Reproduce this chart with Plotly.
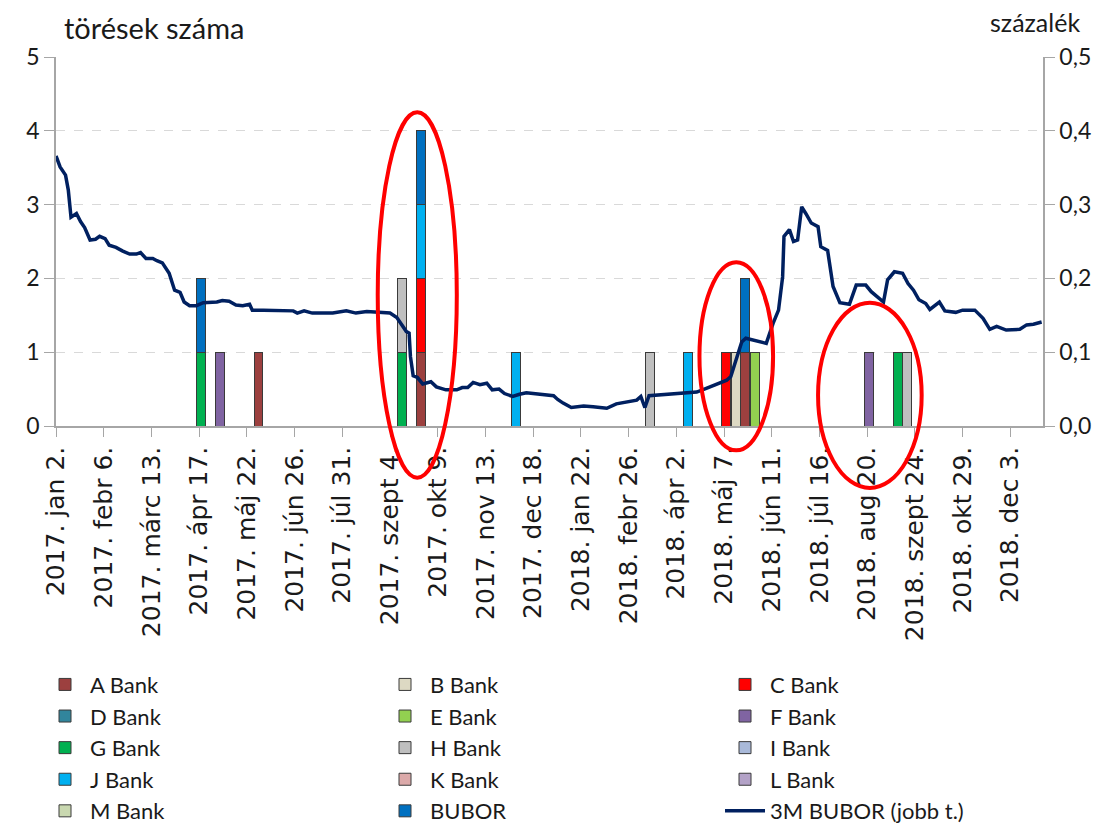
import pandas as pd
import plotly.graph_objects as go

# weeks (Monday) with at least one break, and count of breaks per bank in that week
bar_weeks = ["2017-04-17", "2017-05-01", "2017-05-29", "2017-09-11", "2017-09-25",
             "2017-12-04", "2018-03-12", "2018-04-09", "2018-05-07", "2018-05-14",
             "2018-05-21", "2018-05-28", "2018-08-20", "2018-09-10", "2018-09-17"]
a_bank = [0, 0, 1, 0, 1, 0, 0, 0, 0, 0, 1, 0, 0, 0, 0]
b_bank = [0, 0, 0, 0, 0, 0, 0, 0, 0, 1, 0, 0, 0, 0, 0]
c_bank = [0, 0, 0, 0, 1, 0, 0, 0, 1, 0, 0, 0, 0, 0, 0]
d_bank = [0, 0, 0, 0, 0, 0, 0, 0, 0, 0, 0, 0, 0, 0, 0]
e_bank = [0, 0, 0, 0, 0, 0, 0, 0, 0, 0, 0, 1, 0, 0, 0]
f_bank = [0, 1, 0, 0, 0, 0, 0, 0, 0, 0, 0, 0, 1, 0, 0]
g_bank = [1, 0, 0, 1, 0, 0, 0, 0, 0, 0, 0, 0, 0, 1, 0]
h_bank = [0, 0, 0, 1, 0, 0, 1, 0, 0, 0, 0, 0, 0, 0, 1]
i_bank = [0, 0, 0, 0, 0, 0, 0, 0, 0, 0, 0, 0, 0, 0, 0]
j_bank = [0, 0, 0, 0, 1, 1, 0, 1, 0, 0, 0, 0, 0, 0, 0]
k_bank = [0, 0, 0, 0, 0, 0, 0, 0, 0, 0, 0, 0, 0, 0, 0]
l_bank = [0, 0, 0, 0, 0, 0, 0, 0, 0, 0, 0, 0, 0, 0, 0]
m_bank = [0, 0, 0, 0, 0, 0, 0, 0, 0, 0, 0, 0, 0, 0, 0]
bubor = [1, 0, 0, 0, 1, 0, 0, 0, 0, 0, 1, 0, 0, 0, 0]

# 3M BUBOR (percent)
line_dates = [
    "2017-01-02", "2017-01-05", "2017-01-09", "2017-01-11", "2017-01-13", "2017-01-17",
    "2017-01-20", "2017-01-23", "2017-01-27", "2017-01-31", "2017-02-03", "2017-02-07",
    "2017-02-10", "2017-02-15", "2017-02-20", "2017-02-25", "2017-03-02", "2017-03-05",
    "2017-03-09", "2017-03-14", "2017-03-17", "2017-03-21", "2017-03-26", "2017-03-30",
    "2017-04-03", "2017-04-06", "2017-04-10", "2017-04-15", "2017-04-20", "2017-04-25",
    "2017-04-30", "2017-05-04", "2017-05-09", "2017-05-14", "2017-05-19", "2017-05-24",
    "2017-05-26", "2017-06-03", "2017-06-17", "2017-06-25", "2017-06-28", "2017-07-03",
    "2017-07-09", "2017-07-24", "2017-08-03", "2017-08-10", "2017-08-18", "2017-08-27",
    "2017-09-04", "2017-09-09", "2017-09-12", "2017-09-16", "2017-09-18", "2017-09-19",
    "2017-09-21", "2017-09-24", "2017-09-28", "2017-10-04", "2017-10-08", "2017-10-15",
    "2017-10-23", "2017-10-27", "2017-10-31", "2017-11-04", "2017-11-09", "2017-11-14",
    "2017-11-18", "2017-11-23", "2017-11-27", "2017-12-03", "2017-12-08", "2017-12-13",
    "2017-12-18", "2017-12-25", "2018-01-02", "2018-01-05", "2018-01-09", "2018-01-15",
    "2018-01-24", "2018-01-31", "2018-02-10", "2018-02-17", "2018-02-24", "2018-03-04",
    "2018-03-07", "2018-03-10", "2018-03-13", "2018-03-21", "2018-03-30", "2018-04-09",
    "2018-04-17", "2018-04-24", "2018-05-01", "2018-05-09", "2018-05-12", "2018-05-16",
    "2018-05-20", "2018-05-23", "2018-05-28", "2018-06-02", "2018-06-07", "2018-06-12",
    "2018-06-16", "2018-06-19", "2018-06-20", "2018-06-24", "2018-06-27", "2018-06-30",
    "2018-07-03", "2018-07-06", "2018-07-10", "2018-07-15", "2018-07-17", "2018-07-22",
    "2018-07-26", "2018-07-31", "2018-08-07", "2018-08-12", "2018-08-19", "2018-08-23",
    "2018-08-27", "2018-09-01", "2018-09-04", "2018-09-09", "2018-09-15", "2018-09-19",
    "2018-09-23", "2018-09-27", "2018-10-02", "2018-10-05", "2018-10-12", "2018-10-16",
    "2018-10-24", "2018-10-29", "2018-11-07", "2018-11-13", "2018-11-18", "2018-11-23",
    "2018-11-30", "2018-12-10", "2018-12-15", "2018-12-20", "2018-12-26"]
bubor_3m = [
    0.366, 0.351, 0.340, 0.320, 0.283, 0.288,
    0.277, 0.269, 0.252, 0.253, 0.257, 0.254,
    0.245, 0.242, 0.237, 0.233, 0.233, 0.235,
    0.227, 0.227, 0.224, 0.221, 0.207, 0.184,
    0.181, 0.168, 0.163, 0.163, 0.167, 0.167,
    0.168, 0.170, 0.169, 0.164, 0.163, 0.165,
    0.157, 0.157, 0.157, 0.156, 0.153, 0.156,
    0.153, 0.153, 0.156, 0.153, 0.155, 0.154,
    0.153, 0.147, 0.139, 0.128, 0.126, 0.094,
    0.068, 0.066, 0.057, 0.060, 0.053, 0.049,
    0.049, 0.052, 0.052, 0.059, 0.056, 0.058,
    0.049, 0.050, 0.044, 0.040, 0.043, 0.045,
    0.044, 0.043, 0.041, 0.036, 0.031, 0.025,
    0.027, 0.026, 0.024, 0.030, 0.032, 0.035,
    0.040, 0.025, 0.041, 0.042, 0.043, 0.044,
    0.046, 0.051, 0.056, 0.062, 0.067, 0.092,
    0.114, 0.119, 0.117, 0.115, 0.112, 0.139,
    0.157, 0.202, 0.257, 0.266, 0.250, 0.252,
    0.297, 0.288, 0.275, 0.270, 0.243, 0.238,
    0.189, 0.167, 0.165, 0.191, 0.191, 0.182,
    0.176, 0.168, 0.198, 0.209, 0.207, 0.193,
    0.184, 0.171, 0.166, 0.158, 0.168, 0.156,
    0.154, 0.157, 0.157, 0.146, 0.131, 0.135,
    0.130, 0.131, 0.137, 0.138, 0.141]

tick_text = ["2017. jan 2.", "2017. febr 6.", "2017. márc 13.", "2017. ápr 17.",
             "2017. máj 22.", "2017. jún 26.", "2017. júl 31.", "2017. szept 4.",
             "2017. okt 9.", "2017. nov 13.", "2017. dec 18.", "2018. jan 22.",
             "2018. febr 26.", "2018. ápr 2.", "2018. máj 7.", "2018. jún 11.",
             "2018. júl 16.", "2018. aug 20.", "2018. szept 24.", "2018. okt 29.",
             "2018. dec 3."]

banks = [("A Bank", a_bank, "#9C403F"), ("B Bank", b_bank, "#DDD9C3"),
         ("C Bank", c_bank, "#FF0000"), ("D Bank", d_bank, "#31859C"),
         ("E Bank", e_bank, "#92D050"), ("F Bank", f_bank, "#8064A2"),
         ("G Bank", g_bank, "#00B050"), ("H Bank", h_bank, "#BFBFBF"),
         ("I Bank", i_bank, "#A9B9D9"), ("J Bank", j_bank, "#00B0F0"),
         ("K Bank", k_bank, "#DCAAAA"), ("L Bank", l_bank, "#B3A2C7"),
         ("M Bank", m_bank, "#C9D8B0"), ("BUBOR", bubor, "#0070C0")]

x_start = pd.Timestamp("2017-01-02")
x_end = pd.Timestamp("2018-12-27")
bar_x = [pd.Timestamp(d) + pd.Timedelta(hours=36) for d in bar_weeks]
day_ms = 86400000

fig = go.Figure()
for name, counts, color in banks:
    fig.add_trace(go.Bar(
        x=bar_x, y=[c if c else None for c in counts], name=name,
        width=6.5 * day_ms,
        marker=dict(color=color, line=dict(color="#3A3A3A", width=1))))

fig.add_trace(go.Scatter(
    x=line_dates, y=bubor_3m, name="3M BUBOR (jobb t.)", yaxis="y2",
    mode="lines", line=dict(color="#002060", width=3.5)))


def xp(d):
    return (pd.Timestamp(d) - x_start) / (x_end - x_start)


# red ellipses highlighting the clusters (paper coords so they are not clipped)
for x0, x1, y0, y1 in [("2017-08-26", "2017-10-23", -0.70, 4.25),
                       ("2018-04-19", "2018-06-12", -0.33, 2.22),
                       ("2018-07-15", "2018-09-29", -0.84, 1.67)]:
    fig.add_shape(type="circle", xref="paper", yref="paper",
                  x0=xp(x0), x1=xp(x1), y0=y0 / 5, y1=y1 / 5,
                  line=dict(color="#FF0000", width=4), layer="above")

fig.add_annotation(text="törések száma", xref="paper", yref="paper", x=0.006, y=1.079,
                   xanchor="left", yanchor="middle", showarrow=False,
                   font=dict(family="Lato", size=29, color="#1A1A1A"))
fig.add_annotation(text="százalék", xref="paper", yref="paper", x=0.944, y=1.095,
                   xanchor="left", yanchor="middle", showarrow=False,
                   font=dict(family="Lato", size=25, color="#1A1A1A"))

# page has an 8px body margin, so the figure is 8px smaller than the window
fig.update_layout(
    width=1112, height=817,
    barmode="stack",
    plot_bgcolor="white", paper_bgcolor="white",
    margin=dict(l=48, r=77, t=49, b=399, autoexpand=False),
    separators=", ",
    xaxis=dict(type="date", range=[x_start, x_end], automargin=False,
               tickvals=pd.date_range("2017-01-02", periods=21, freq="35D"),
               ticktext=tick_text, tickangle=-90,
               tickfont=dict(family="DejaVu Sans", size=25, color="#1A1A1A"),
               showline=True, linecolor="#A6A6A6", linewidth=1.5,
               ticks="outside", ticklen=9, tickcolor="#A6A6A6",
               showgrid=False, zeroline=False),
    yaxis=dict(range=[0, 5], dtick=1, tickformat="d", automargin=False,
               tickfont=dict(family="Lato", size=23, color="#1A1A1A"),
               showline=True, linecolor="#A6A6A6", linewidth=1.5,
               ticks="outside", ticklen=10, tickcolor="#A6A6A6",
               showgrid=True, gridcolor="#D9D9D9", griddash="dash", gridwidth=1.3,
               zeroline=False),
    yaxis2=dict(range=[0, 0.5], dtick=0.1, tickformat=".1f", overlaying="y", side="right",
                automargin=False,
                tickfont=dict(family="Lato", size=23, color="#1A1A1A"),
                showline=True, linecolor="#A6A6A6", linewidth=1.5,
                ticks="outside", ticklen=10, tickcolor="#A6A6A6",
                showgrid=False, zeroline=False),
    legend=dict(orientation="h", x=-0.0162, y=-0.644, xanchor="left", yanchor="top",
                entrywidth=285, entrywidthmode="pixels", itemwidth=40,
                font=dict(family="Lato", size=22, color="#1A1A1A"),
                traceorder="normal"),
    showlegend=True,
)

fig.write_html("out.html")
